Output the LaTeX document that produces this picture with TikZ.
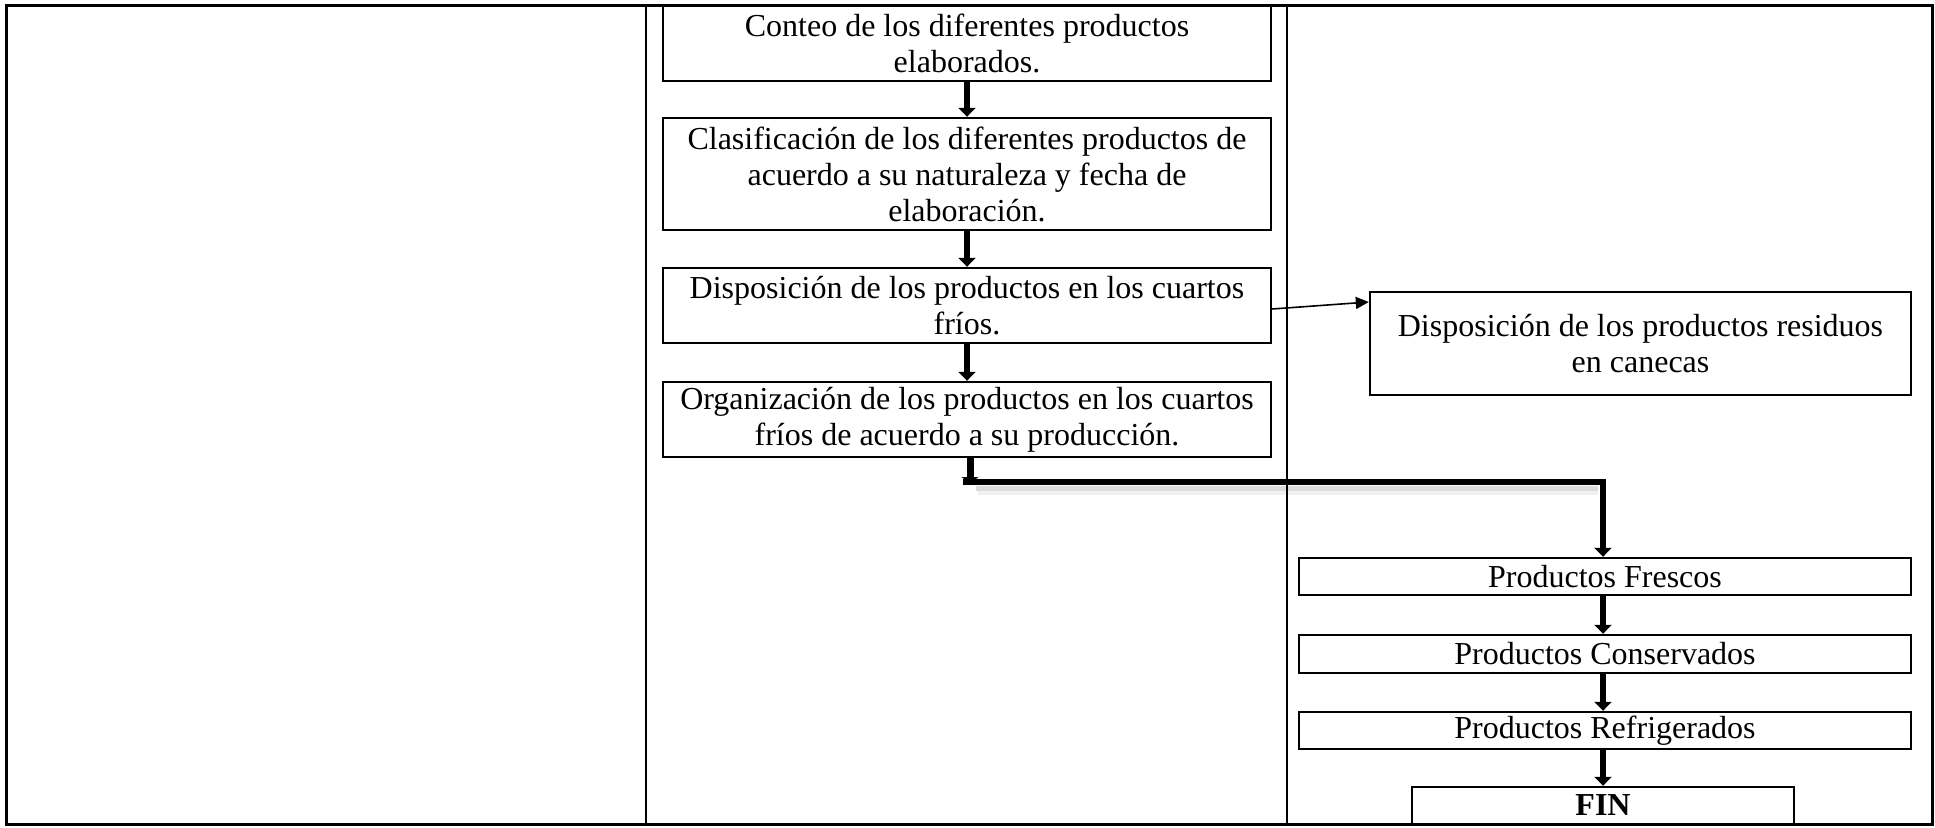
\documentclass[tikz,border=0pt]{standalone}
\usepackage{fontspec}
\setmainfont{Liberation Serif}
\usetikzlibrary{arrows.meta}
\begin{document}
\begin{tikzpicture}[x=1pt,y=-1pt,
  box/.style={draw, line width=2.4pt, inner sep=0pt, align=center, font=\fontsize{32}{36}\selectfont},
  bigarrow/.style={line width=6pt, -{Triangle[width=17pt,length=9pt]}},
  thinarrow/.style={line width=1.6pt, -{Triangle[width=12pt,length=13pt]}},
  frameline/.style={line width=3pt},
  colline/.style={line width=2pt}]
\useasboundingbox (0,0) rectangle (1935,827);
% soft shadow of the long connector (under the table lines)
\draw[line width=9pt, black!6] (978,490) -- (1598,490);
\draw[line width=5pt, black!14] (976,488) -- (1598,488);
% table frame
\draw[frameline] (6,5) rectangle (1932,824);
\draw[colline] (646,5) -- (646,824);
\draw[colline] (1287,5) -- (1287,824);
% middle column
\node[box, minimum width=608pt, minimum height=75pt] (b1) at (967,43.5) {Conteo de los diferentes productos\\elaborados.};
\node[box, minimum width=608pt, minimum height=112pt] (b2) at (967,174) {Clasificación de los diferentes productos de\\acuerdo a su naturaleza y fecha de\\elaboración.};
\node[box, minimum width=608pt, minimum height=75pt] (b3) at (967,305.5) {Disposición de los productos en los cuartos\\fríos.};
\node[box, minimum width=608pt, minimum height=75pt] (b4) at (967,419.5) {Organización de los productos en los cuartos\\fríos de acuerdo a su producción.};
% right column
\node[box, minimum width=541pt, minimum height=103pt] (res) at (1640.5,343.5) {Disposición de los productos residuos\\en canecas};
\node[box, minimum width=612pt, minimum height=37pt] (fr) at (1605,576.5) {Productos Frescos};
\node[box, minimum width=612pt, minimum height=38pt] (co) at (1605,654) {Productos Conservados};
\node[box, minimum width=612pt, minimum height=37pt] (re) at (1605,730.5) {Productos Refrigerados};
\node[box, minimum width=382pt, minimum height=37pt] (fin) at (1603,805.5) {\textbf{FIN}};
% connectors
\draw[bigarrow] (b1.south) -- (b2.north);
\draw[bigarrow] (b2.south) -- (b3.north);
\draw[bigarrow] (b3.south) -- (b4.north);
\draw[thinarrow] ([yshift=-3.5pt]b3.east) -- ([yshift=41.5pt]res.west);
\coordinate (c1) at (970,483);
\coordinate (c0) at (963,482);
\coordinate (c2) at (1603,482);
\draw[line width=7pt, -{Triangle[width=17pt,length=6pt]}] ([xshift=3pt]b4.south) -- (c1);
\draw[bigarrow] (c0) -- (c2) -- (c2 |- fr.north);
\draw[bigarrow] (fr.south -| c2) -- (co.north -| c2);
\draw[bigarrow] (co.south -| c2) -- (re.north -| c2);
\draw[bigarrow] (re.south -| fin) -- (fin.north);
\end{tikzpicture}
\end{document}
